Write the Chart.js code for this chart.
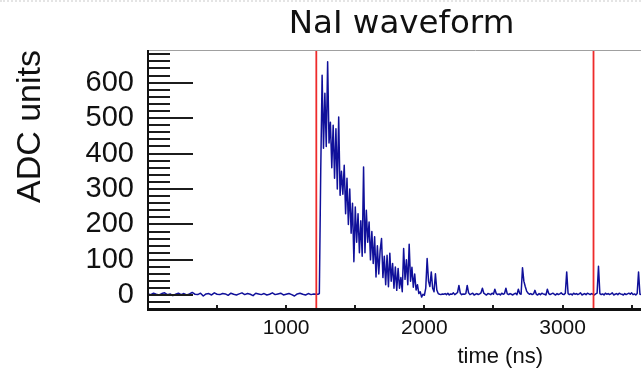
<!DOCTYPE html>
<html>
<head>
<meta charset="utf-8">
<script src="https://cdn.jsdelivr.net/npm/chart.js@4.4.1/dist/chart.umd.min.js"></script>
<style>
  html, body { margin: 0; padding: 0; background: #ffffff; overflow: hidden; }
  #wrap { position: relative; width: 641px; height: 369px; overflow: hidden; background: #fff; }
  #dots { position: absolute; left: 0; top: 0; width: 641px; height: 0; border-top: 2px dotted #e4e4e4; z-index: 2; }
  canvas { display: block; }
</style>
</head>
<body>
<div id="wrap">
  <div id="dots"></div>
  <canvas id="c" width="803" height="369" style="width:803px;height:369px"></canvas>
</div>
<script>
// ---------------- data ----------------
const chartTitle = 'NaI waveform';
const xAxisTitle = 'time (ns)';
const yAxisTitle = 'ADC units';

// pre-trigger baseline, one sample every 20 ns from 0 ns
const baselineStartNs = 0;
const baselineStepNs = 20;
const baselineAdc = [4, 2, 6, 3, 1, 5, 7, 2, 4, -1,
                     3, 6, 2, 5, 1, 4, 8, 3, 2, 6,
                     -2, 4, 5, 1, 7, 3, 2, 5, 4, 0,
                     6, 3, 1, 4, 7, 2, 5, 3, -1, 6,
                     4, 2, 5, 1, 3, 7, 2, 4, 6, 1,
                     3, 5, 2, -2, 4, 6, 3, 1, 5, 2,
                     4, 3];

// scintillation pulse, one sample every 10 ns
const pulseStartNs = 1230;
const pulseStepNs = 10;
const pulseAdc = [3, 5, 350, 621, 415, 570, 420, 659, 430, 488,
                  360, 480, 330, 470, 300, 503, 282, 350, 285, 367,
                  230, 330, 200, 300, 175, 260, 95, 249, 150, 230,
                  120, 210, 110, 362, 120, 240, 150, 207, 100, 180,
                  90, 165, 52, 140, 60, 127, 160, 50, 110, 30,
                  113, 24, 119, 40, 90, 20, 80, 14, 76, 20,
                  50, 10, 132, 45, 100, 30, 144, 40, 79, 23,
                  60, 15, 30, 5, 10, -5, 3, 0, 20, 104,
                  40, 25, 66, 20, 10, 61, 15, 5, 3, 2,
                  4];

// late tail with afterpulses, one sample every 10 ns
const tailStartNs = 2140;
const tailStepNs = 10;
const tailAdc = [3, 5, 2, 6, 1, 4, 3, 7, 2, 5,
                 8, 28, 6, 2, 4, 3, 5, 28, 7, 2,
                 4, 6, 1, 3, 5, 2, 4, 7, 20, 6,
                 3, 1, 5, 4, 2, 6, 3, 17, 5, 2,
                 4, 1, 6, 3, 5, 20, 4, 2, 5, 3,
                 1, 4, 6, 2, 17, 5, 3, 78, 40, 25,
                 12, 6, 3, 5, 2, 4, 14, 3, 1, 5,
                 2, 6, 4, 3, 1, 17, 5, 2, 4, 6,
                 3, 1, 5, 2, 4, 7, 3, 2, 6, 66,
                 5, 2, 4, 1, 6, 3, 5, 2, 4, 7,
                 1, 3, 5, 2, 6, 4, 2, 5, 3, 1,
                 4, 6, 82, 5, 2, 4, 1, 6, 3, 5,
                 2, 4, 7, 1, 3, 5, 2, 6, 4, 3,
                 1, 5, 2, 4, 6, 3, 7, 2, 4, 1,
                 5, 66, 3, 2, 6, 4, 1, 5, 3];

// red marker lines (ns)
const markerTimesNs = [1218, 3224];

// axis ranges and ticks
const xRange = [0, 4740];
const yRange = [-40, 692];
const xTickValues = [0, 500, 1000, 1500, 2000, 2500, 3000, 3500, 4000, 4500];
const xLabelStep = 1000;
const yMinorStep = 20;
const yMajorStep = 100;

// ---------------- build the table for Chart.js ----------------
function segment(start, step, values) {
  return values.map((v, i) => ({ x: start + i * step, y: v }));
}
const waveform = [].concat(
  segment(baselineStartNs, baselineStepNs, baselineAdc),
  segment(pulseStartNs, pulseStepNs, pulseAdc),
  segment(tailStartNs, tailStepNs, tailAdc)
);

const markerSets = markerTimesNs.map(t => ({
  data: [{ x: t, y: yRange[0] }, { x: t, y: yRange[1] }],
  borderColor: '#ee2b2b',
  borderWidth: 1.8,
  pointRadius: 0,
  fill: false
}));

const framePlugin = {
  id: 'frame',
  afterDraw(chart) {
    const { ctx, chartArea: a, scales } = chart;
    const xs = scales.x, ys = scales.y;
    const line = (x1, y1, x2, y2) => { ctx.beginPath(); ctx.moveTo(x1, y1); ctx.lineTo(x2, y2); ctx.stroke(); };
    ctx.save();
    // top frame line
    ctx.strokeStyle = '#a0a0a0';
    ctx.lineWidth = 1;
    line(a.left, a.top + 0.5, a.right, a.top + 0.5);
    // y ticks, inside the frame
    ctx.strokeStyle = '#1c1c1c';
    ctx.lineWidth = 2;
    for (let v = yRange[0]; v <= yRange[1]; v += yMinorStep) {
      const py = Math.round(ys.getPixelForValue(v));
      const len = (v % yMajorStep === 0) ? 45 : 22;
      line(a.left, py, a.left + len, py);
    }
    // x ticks, inside the frame
    xs.ticks.forEach(t => {
      if (t.value <= xRange[0]) return;
      const px = Math.round(xs.getPixelForValue(t.value));
      line(px, a.bottom, px, a.bottom - 4.5);
    });
    // axis lines
    ctx.strokeStyle = '#111';
    ctx.lineWidth = 2;
    line(a.left, a.top, a.left, a.bottom + 1.5);
    ctx.lineWidth = 3;
    line(a.left - 1, a.bottom, a.right, a.bottom);
    // x axis title, right aligned like the original
    ctx.fillStyle = '#111';
    ctx.font = '22px "Liberation Sans", Arial, sans-serif';
    ctx.textAlign = 'right';
    ctx.textBaseline = 'middle';
    ctx.fillText(xAxisTitle, 543, 357);
    ctx.restore();
  }
};

Chart.defaults.font.family = '"Liberation Sans", Arial, sans-serif';
Chart.defaults.color = '#111';

new Chart(document.getElementById('c'), {
  type: 'line',
  data: {
    datasets: markerSets.concat([{
      data: waveform,
      borderColor: '#10109a',
      borderWidth: 1.5,
      borderJoinStyle: 'round',
      pointRadius: 0,
      tension: 0,
      fill: false
    }])
  },
  options: {
    responsive: false,
    animation: false,
    devicePixelRatio: 1,
    layout: { padding: 0 },
    plugins: {
      legend: { display: false },
      tooltip: { enabled: false },
      title: {
        display: true,
        text: chartTitle,
        color: '#111',
        font: { family: '"DejaVu Sans", sans-serif', size: 32.5, weight: 'normal', lineHeight: 1.2 },
        padding: { top: 5.5, bottom: 5.5 }
      }
    },
    scales: {
      x: {
        type: 'linear',
        min: xRange[0],
        max: xRange[1],
        grid: { display: false, drawTicks: false },
        border: { display: false },
        afterBuildTicks: s => { s.ticks = xTickValues.map(v => ({ value: v })); },
        ticks: {
          autoSkip: false,
          maxRotation: 0,
          padding: 6,
          font: { size: 21 },
          color: '#111',
          callback: v => (v > 0 && v % xLabelStep === 0) ? String(v) : ''
        },
        afterFit: s => { s.height = 59.5; }
      },
      y: {
        type: 'linear',
        min: yRange[0],
        max: yRange[1],
        grid: { display: false, drawTicks: false },
        border: { display: false },
        title: {
          display: true,
          text: yAxisTitle,
          align: 'end',
          color: '#111',
          font: { size: 34, lineHeight: 1.2 },
          padding: { top: 10, bottom: 0 }
        },
        ticks: {
          stepSize: yMinorStep,
          autoSkip: false,
          padding: 14,
          font: { size: 29 },
          color: '#111',
          callback: v => (v % yMajorStep === 0) ? String(v) : ''
        },
        afterFit: s => { s.width = 148; }
      }
    }
  },
  plugins: [framePlugin]
});
</script>
</body>
</html>
